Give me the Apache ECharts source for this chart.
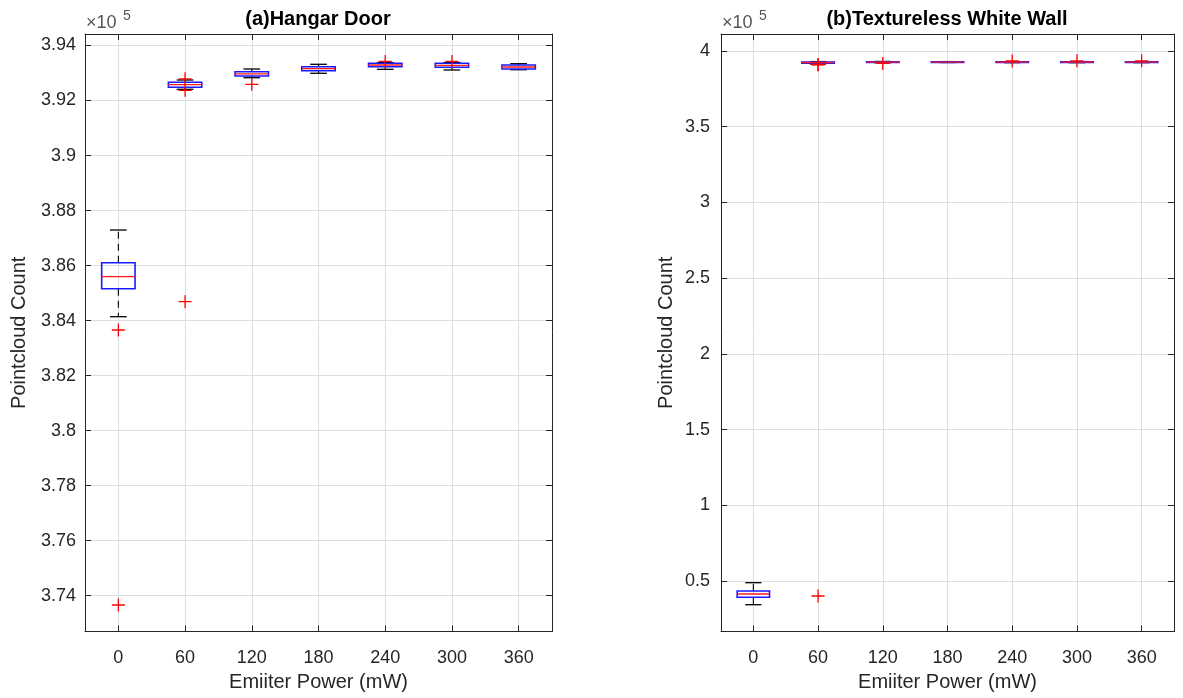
<!DOCTYPE html>
<html>
<head>
<meta charset="utf-8">
<script src="https://cdn.jsdelivr.net/npm/echarts@6/dist/echarts.min.js"></script>
<style>
html,body{margin:0;padding:0;background:#fff;}
#chart{width:1183px;height:698px;}
</style>
</head>
<body>
<div id="chart"></div>
<script>
// ---------- data ----------
const powerTicks = [0, 60, 120, 180, 240, 300, 360];          // mW
const leftYTicks = [3.74, 3.76, 3.78, 3.8, 3.82, 3.84, 3.86, 3.88, 3.9, 3.92, 3.94]; // x1e5
const rightYTicks = [0.5, 1, 1.5, 2, 2.5, 3, 3.5, 4];          // x1e5

// (a) Hangar Door - box statistics (point counts)
const hangarLowWhisker  = [384142, 392408, 392830, 392990, 393135, 393110, 393120];
const hangarQ1          = [385160, 392480, 392891, 393084, 393229, 393207, 393145];
const hangarMedian      = [385596, 392575, 392971, 393157, 393291, 393280, 393218];
const hangarQ3          = [386105, 392662, 393048, 393229, 393353, 393353, 393291];
const hangarHighWhisker = [387293, 392746, 393146, 393317, 393380, 393380, 393338];
const hangarOutliers = [
  [0, 383658], [0, 373662],
  [60, 392790], [60, 392370], [60, 384687],
  [120, 392590],
  [240, 393420],
  [300, 393420]
];

// (b) Textureless White Wall - box statistics (point counts)
const wallLowWhisker  = [34350, 391400, 392200, 392400, 392300, 392300, 392300];
const wallQ1          = [39240, 391900, 392500, 392600, 392600, 392600, 392600];
const wallMedian      = [41420, 392400, 392700, 392700, 392700, 392700, 392700];
const wallQ3          = [43400, 392700, 392900, 392800, 392800, 392800, 392800];
const wallHighWhisker = [48880, 393000, 393100, 393000, 393000, 393000, 393000];
const wallOutliers = [
  [60, 40100], [60, 390800], [60, 391100],
  [120, 391800],
  [240, 393400],
  [300, 393500],
  [360, 393500]
];

// ---------- helpers ----------
function boxRows(low, q1, med, q3, high) {
  return powerTicks.map((p, i) => [p, low[i], q1[i], med[i], q3[i], high[i]]);
}
function renderBox(params, api) {
  const x = api.value(0);
  const pLow = api.coord([x, api.value(1)]);
  const pQ1 = api.coord([x, api.value(2)]);
  const pMed = api.coord([x, api.value(3)]);
  const pQ3 = api.coord([x, api.value(4)]);
  const pHigh = api.coord([x, api.value(5)]);
  const step = api.size([60, 0])[0];
  const hw = step * 0.25;     // box half width
  const cw = step * 0.125;    // cap half width
  const cx = pMed[0];
  const dash = {stroke: '#000', lineWidth: 1.1, lineDash: [7, 5]};
  const solid = {stroke: '#000', lineWidth: 1.3};
  return {
    type: 'group',
    children: [
      {type: 'line', shape: {x1: cx, y1: pQ3[1], x2: cx, y2: pHigh[1]}, style: dash},
      {type: 'line', shape: {x1: cx, y1: pQ1[1], x2: cx, y2: pLow[1]}, style: dash},
      {type: 'line', shape: {x1: cx - cw, y1: pHigh[1], x2: cx + cw, y2: pHigh[1]}, style: solid},
      {type: 'line', shape: {x1: cx - cw, y1: pLow[1], x2: cx + cw, y2: pLow[1]}, style: solid},
      {type: 'rect', shape: {x: cx - hw, y: pQ3[1], width: 2 * hw, height: Math.max(pQ1[1] - pQ3[1], 0.5)},
        style: {fill: 'none', stroke: '#1a1aff', lineWidth: 1.6}},
      {type: 'line', shape: {x1: cx - hw, y1: pMed[1], x2: cx + hw, y2: pMed[1]},
        style: {stroke: '#ff1a1a', lineWidth: 1.3}}
    ]
  };
}
const plusSymbol = 'path://M0,5.85H13V7.15H0Z M5.85,0H7.15V13H5.85Z';
const FONT = '"Liberation Sans", Arial, Helvetica, sans-serif';
const AX = '#262626';
const GRIDC = '#dedede';
const fmt = v => String(parseFloat((v / 1e5).toFixed(2)));
const mult = arr => arr.map(v => Math.round(v * 1e5));

function xAxes(gridIndex) {
  return [
    {
      type: 'value', gridIndex, min: -30, max: 390, position: 'bottom',
      name: 'Emiiter Power (mW)', nameLocation: 'middle', nameGap: 37,
      nameTextStyle: {fontFamily: FONT, fontSize: 20, color: AX},
      axisLine: {show: true, onZero: false, lineStyle: {color: AX, width: 1}},
      axisTick: {show: true, inside: true, length: 6, customValues: powerTicks, lineStyle: {color: AX}},
      axisLabel: {customValues: powerTicks, margin: 18, fontFamily: FONT, fontSize: 18, color: AX},
      splitLine: {show: true, lineStyle: {color: GRIDC, width: 1}}
    },
    {
      type: 'value', gridIndex, min: -30, max: 390, position: 'top',
      axisLine: {show: true, onZero: false, lineStyle: {color: AX, width: 1}},
      axisTick: {show: true, inside: true, length: 6, customValues: powerTicks, lineStyle: {color: AX}},
      axisLabel: {show: false},
      splitLine: {show: false}
    }
  ];
}
function yAxes(gridIndex, min, max, ticks, nameGap, margin) {
  const cv = mult(ticks);
  return [
    {
      type: 'value', gridIndex, min, max, position: 'left',
      name: 'Pointcloud Count', nameLocation: 'middle', nameGap,
      nameTextStyle: {fontFamily: FONT, fontSize: 20, color: AX},
      axisLine: {show: true, onZero: false, lineStyle: {color: AX, width: 1}},
      axisTick: {show: true, inside: true, length: 6, customValues: cv, lineStyle: {color: AX}},
      axisLabel: {customValues: cv, margin, formatter: fmt, fontFamily: FONT, fontSize: 18, color: AX},
      splitLine: {show: true, lineStyle: {color: GRIDC, width: 1}}
    },
    {
      type: 'value', gridIndex, min, max, position: 'right',
      axisLine: {show: true, onZero: false, lineStyle: {color: AX, width: 1}},
      axisTick: {show: true, inside: true, length: 6, customValues: cv, lineStyle: {color: AX}},
      axisLabel: {show: false},
      splitLine: {show: false}
    }
  ];
}

const chart = echarts.init(document.getElementById('chart'), null, {renderer: 'canvas'});
chart.setOption({
  animation: false,
  backgroundColor: '#fff',
  title: [
    {text: '(a)Hangar Door', left: 318, top: 9, textAlign: 'center', padding: 0,
      textStyle: {fontFamily: FONT, fontSize: 20, fontWeight: 'bold', color: '#000'}},
    {text: '(b)Textureless White Wall', left: 947, top: 9, textAlign: 'center', padding: 0,
      textStyle: {fontFamily: FONT, fontSize: 20, fontWeight: 'bold', color: '#000'}}
  ],
  graphic: [
    {type: 'text', left: 86, top: 14, style: {text: '×10', font: '18px ' + FONT, fill: '#555'}},
    {type: 'text', left: 123, top: 9, style: {text: '5', font: '14px ' + FONT, fill: '#555'}},
    {type: 'text', left: 722, top: 14, style: {text: '×10', font: '18px ' + FONT, fill: '#555'}},
    {type: 'text', left: 759, top: 9, style: {text: '5', font: '14px ' + FONT, fill: '#555'}}
  ],
  grid: [
    {left: 85, top: 34, width: 467, height: 597.5},
    {left: 721, top: 34, width: 453, height: 597.5}
  ],
  xAxis: [...xAxes(0), ...xAxes(1)],
  yAxis: [
    ...yAxes(0, 372699, 394418, leftYTicks, 56, 9),
    ...yAxes(1, 16651, 411226, rightYTicks, 45, 11)
  ],
  series: [
    {type: 'custom', name: 'hangarBox', xAxisIndex: 0, yAxisIndex: 0,
      renderItem: renderBox, encode: {x: 0, y: [1, 2, 3, 4, 5]},
      data: boxRows(hangarLowWhisker, hangarQ1, hangarMedian, hangarQ3, hangarHighWhisker), z: 3},
    {type: 'scatter', name: 'hangarOutliers', xAxisIndex: 0, yAxisIndex: 0,
      symbol: plusSymbol, symbolSize: 13, itemStyle: {color: '#ff0000', opacity: 1},
      data: hangarOutliers, z: 4},
    {type: 'custom', name: 'wallBox', xAxisIndex: 2, yAxisIndex: 2,
      renderItem: renderBox, encode: {x: 0, y: [1, 2, 3, 4, 5]},
      data: boxRows(wallLowWhisker, wallQ1, wallMedian, wallQ3, wallHighWhisker), z: 3},
    {type: 'scatter', name: 'wallOutliers', xAxisIndex: 2, yAxisIndex: 2,
      symbol: plusSymbol, symbolSize: 13, itemStyle: {color: '#ff0000', opacity: 1},
      data: wallOutliers, z: 4}
  ]
});
</script>
</body>
</html>
